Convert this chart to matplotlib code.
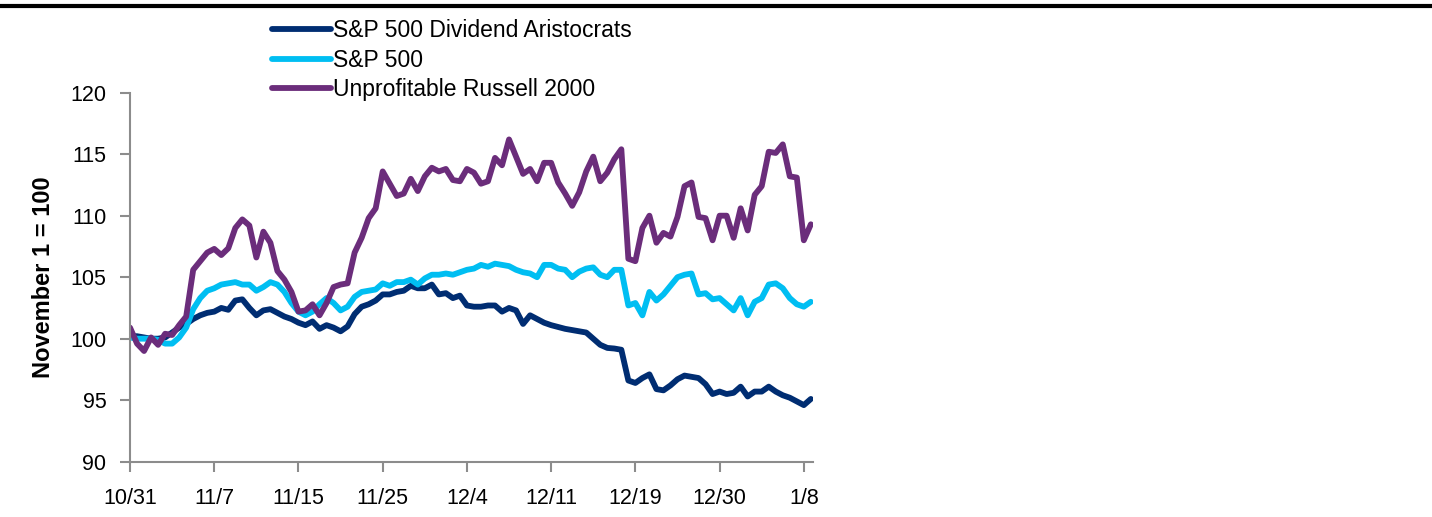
import numpy as np
import matplotlib
matplotlib.use("Agg")
import matplotlib.pyplot as plt
from matplotlib.lines import Line2D

plt.rcParams["font.family"] = ["Liberation Sans", "DejaVu Sans"]

# index levels, November 1 = 100 (12 samples between date ticks)
aristocrats = [
    100.2, 100.2, 100.1, 100.0, 100.0, 100.1, 100.5, 100.9, 101.2, 101.6, 101.9, 102.1,
    102.2, 102.5, 102.35, 103.1, 103.2, 102.5, 101.9, 102.3, 102.4, 102.1, 101.8, 101.6,
    101.3, 101.1, 101.4, 100.8, 101.1, 100.9, 100.6, 101.0, 102.0, 102.6, 102.8, 103.1,
    103.6, 103.6, 103.8, 103.9, 104.3, 104.1, 104.1, 104.4, 103.6, 103.7, 103.3, 103.5,
    102.7, 102.6, 102.6, 102.7, 102.7, 102.2, 102.5, 102.3, 101.2, 101.9, 101.6, 101.3,
    101.1, 100.95, 100.8, 100.7, 100.6, 100.5, 100.0, 99.5, 99.25, 99.2, 99.1, 96.6,
    96.4, 96.8, 97.1, 95.9, 95.8, 96.2, 96.7, 97.0, 96.9, 96.8, 96.3, 95.5,
    95.7, 95.5, 95.6, 96.1, 95.3, 95.7, 95.7, 96.1, 95.7, 95.4, 95.2, 94.9,
    94.6, 95.1,
]
sp500 = [
    100.1, 100.0, 100.0, 100.0, 99.9, 99.6, 99.6, 100.1, 100.9, 102.4, 103.3, 103.9,
    104.1, 104.4, 104.5, 104.6, 104.4, 104.4, 103.9, 104.2, 104.6, 104.4, 103.8, 102.9,
    102.2, 101.9, 102.2, 102.8, 103.3, 102.9, 102.3, 102.6, 103.4, 103.8, 103.9, 104.0,
    104.5, 104.3, 104.6, 104.6, 104.8, 104.4, 104.9, 105.2, 105.2, 105.3, 105.2, 105.4,
    105.6, 105.7, 106.0, 105.85, 106.1, 106.0, 105.9, 105.6, 105.4, 105.3, 105.0, 106.0,
    106.0, 105.7, 105.6, 105.0, 105.45, 105.7, 105.8, 105.2, 105.0, 105.6, 105.6, 102.7,
    102.9, 101.9, 103.8, 103.1, 103.6, 104.3, 105.0, 105.2, 105.3, 103.6, 103.7, 103.2,
    103.3, 102.8, 102.3, 103.3, 101.9, 103.0, 103.3, 104.4, 104.5, 104.1, 103.3, 102.8,
    102.6, 103.0,
]
unprofitable_r2000 = [
    100.9, 99.6, 99.0, 100.1, 99.5, 100.4, 100.3, 101.1, 101.8, 105.6, 106.3, 107.0,
    107.3, 106.8, 107.35, 109.0, 109.7, 109.2, 106.6, 108.7, 107.8, 105.5, 104.8, 103.8,
    102.2, 102.3, 102.8, 101.9, 102.9, 104.2, 104.4, 104.5, 107.0, 108.2, 109.8, 110.6,
    113.6, 112.6, 111.6, 111.8, 113.0, 112.0, 113.2, 113.9, 113.6, 113.8, 112.9, 112.8,
    113.8, 113.5, 112.6, 112.8, 114.7, 114.1, 116.2, 114.8, 113.4, 113.8, 112.8, 114.3,
    114.3, 112.7, 111.8, 110.8, 111.9, 113.6, 114.8, 112.8, 113.5, 114.6, 115.4, 106.5,
    106.3, 109.0, 110.0, 107.8, 108.6, 108.3, 109.9, 112.4, 112.7, 109.9, 109.8, 108.0,
    110.0, 110.0, 108.2, 110.6, 108.8, 111.7, 112.4, 115.2, 115.1, 115.8, 113.2, 113.1,
    108.0, 109.3,
]
date_labels = ["10/31", "11/7", "11/15", "11/25", "12/4", "12/11", "12/19", "12/30", "1/8"]
labels = ["S&P 500 Dividend Aristocrats", "S&P 500", "Unprofitable Russell 2000"]
colors = ["#002D72", "#00BEF2", "#6B2D7B"]

fig = plt.figure(figsize=(14.32, 5.17), dpi=100)
ax = fig.add_axes([0.0908, 0.107, 0.4769, 0.7137])

x = np.arange(len(sp500))
for series, label, color in zip([aristocrats, sp500, unprofitable_r2000], labels, colors):
    ax.plot(x, series, color=color, lw=4.2, label=label, solid_joinstyle="round",
            solid_capstyle="round")

step = 12
ax.set_xlim(0, 97.3)
ax.set_ylim(90, 120)
ax.set_xticks(np.arange(0, step * len(date_labels), step))
ax.set_xticklabels(date_labels)
ax.set_yticks(np.arange(90, 121, 5))

for side in ("top", "right"):
    ax.spines[side].set_visible(False)
for side in ("left", "bottom"):
    ax.spines[side].set_color("#8C8C8C")
    ax.spines[side].set_linewidth(1.5)
ax.tick_params(direction="out", length=7, width=1.5, color="#8C8C8C",
               labelsize=15.5, labelcolor="black")
ax.tick_params(axis="y", pad=10)
ax.tick_params(axis="x", pad=12)

ax.set_ylabel("November 1 = 100", fontsize=17, fontweight="bold")
ax.yaxis.set_label_coords(-0.11, 0.5)

ax.legend(loc="upper left", bbox_to_anchor=(0.19, 0.963), bbox_transform=fig.transFigure,
          frameon=False, fontsize=16.5, handlelength=2.55, handletextpad=0.1,
          labelspacing=0.29, borderpad=0, borderaxespad=0)

fig.add_artist(Line2D([0, 1], [0.989, 0.989], transform=fig.transFigure,
                      color="black", lw=3))

fig.savefig("out.png", dpi=100)
